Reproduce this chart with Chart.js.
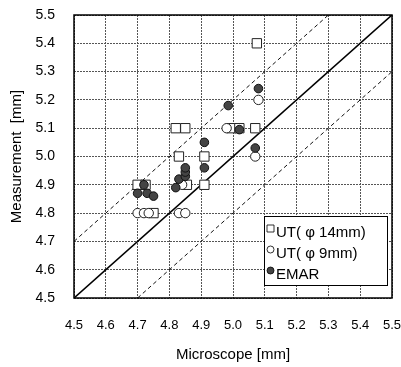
<!DOCTYPE html>
<html>
<head>
<meta charset="utf-8">
<script src="https://cdn.jsdelivr.net/npm/chart.js@4"></script>
<style>
html, body { margin: 0; padding: 0; background: #fff; }
</style>
</head>
<body>
<canvas id="myChart" width="401" height="367"></canvas>
<script>
// UT (phi 14mm) - squares
var ut14X = [4.70, 4.725, 4.75, 4.82, 4.85, 4.83, 4.855, 4.91, 4.91, 4.995, 5.02, 5.07, 5.075];
var ut14Y = [4.90, 4.90, 4.80, 5.10, 5.10, 5.00, 4.90, 5.00, 4.90, 5.10, 5.10, 5.10, 5.40];
// UT (phi 9mm) - open circles
var ut9X = [4.70, 4.72, 4.735, 4.83, 4.85, 4.84, 4.98, 5.07, 5.08];
var ut9Y = [4.80, 4.80, 4.80, 4.80, 4.80, 4.90, 5.10, 5.00, 5.20];
// EMAR - filled circles
var emarX = [4.70, 4.72, 4.73, 4.75, 4.82, 4.83, 4.85, 4.85, 4.85, 4.91, 4.91, 4.985, 5.02, 5.07, 5.08];
var emarY = [4.87, 4.90, 4.87, 4.86, 4.89, 4.92, 4.93, 4.945, 4.96, 4.96, 5.05, 5.18, 5.095, 5.03, 5.24];
// reference lines: y = x, y = x + 0.2, y = x - 0.2
var diagX = [4.5, 5.5], diagY = [4.5, 5.5];
var upperX = [4.5, 5.3], upperY = [4.7, 5.5];
var lowerX = [4.7, 5.5], lowerY = [4.5, 5.3];

var axisMin = 4.5, axisMax = 5.5, axisStep = 0.1;
var labels = ['UT( φ 14mm)', 'UT( φ 9mm)', 'EMAR'];

function pts(xs, ys) {
    return xs.map(function (x, i) { return { x: x, y: ys[i] }; });
}

var fontFam = "'Liberation Sans', Arial, sans-serif";

// frame round the plot
var framePlugin = {
    id: 'frame',
    beforeDatasetsDraw: function (chart) {
        var a = chart.chartArea, c = chart.ctx;
        c.save();
        c.strokeStyle = '#000';
        c.lineWidth = 1.5;
        c.strokeRect(a.left, a.top, a.right - a.left, a.bottom - a.top);
        c.restore();
    }
};

// boxed legend inside the plot, bottom right
var boxLegend = {
    id: 'boxLegend',
    afterDraw: function (chart) {
        var a = chart.chartArea, c = chart.ctx;
        var w = 123, h = 69;
        var x0 = a.right - 5 - w, y0 = a.bottom - 13 - h;
        c.save();
        c.fillStyle = '#fff';
        c.fillRect(x0, y0, w, h);
        c.strokeStyle = '#000';
        c.lineWidth = 1;
        c.strokeRect(x0 + 0.5, y0 + 0.5, w, h);
        c.font = '15px ' + fontFam;
        c.textBaseline = 'middle';
        for (var i = 0; i < 3; i++) {
            var ds = chart.data.datasets[i];
            var yy = y0 + 17 + i * 21;
            c.beginPath();
            c.lineWidth = 0.8;
            c.strokeStyle = '#000';
            c.fillStyle = ds.backgroundColor;
            if (ds.pointStyle === 'rect') {
                c.rect(x0 + 3, yy - 8, 7, 7);
            } else {
                c.arc(x0 + 6.5, yy - 4.5, 3.5, 0, Math.PI * 2);
            }
            c.fill();
            c.stroke();
            c.fillStyle = '#000';
            c.fillText(labels[i], x0 + 12, yy);
        }
        c.restore();
    }
};

var ctx = document.getElementById('myChart').getContext('2d');
var myChart = new Chart(ctx, {
    type: 'scatter',
    data: {
        datasets: [{
            label: labels[0],
            data: pts(ut14X, ut14Y),
            pointStyle: 'rect',
            pointRadius: 6.6,
            backgroundColor: '#fff',
            borderColor: '#222',
            borderWidth: 1,
            order: 3
        }, {
            label: labels[1],
            data: pts(ut9X, ut9Y),
            pointStyle: 'circle',
            pointRadius: 4.7,
            backgroundColor: '#fff',
            borderColor: '#222',
            borderWidth: 1,
            order: 2
        }, {
            label: labels[2],
            data: pts(emarX, emarY),
            pointStyle: 'circle',
            pointRadius: 4.3,
            backgroundColor: '#444',
            borderColor: '#111',
            borderWidth: 1,
            order: 1
        }, {
            data: pts(diagX, diagY),
            showLine: true,
            pointRadius: 0,
            borderColor: '#000',
            borderWidth: 1.6,
            order: 4
        }, {
            data: pts(upperX, upperY),
            showLine: true,
            pointRadius: 0,
            borderColor: '#111',
            borderWidth: 1,
            borderDash: [4, 3],
            order: 4
        }, {
            data: pts(lowerX, lowerY),
            showLine: true,
            pointRadius: 0,
            borderColor: '#111',
            borderWidth: 1,
            borderDash: [4, 3],
            order: 4
        }]
    },
    options: {
        responsive: false,
        animation: false,
        layout: { padding: { top: 15, right: 9, left: 0, bottom: 0 } },
        plugins: {
            legend: { display: false },
            tooltip: { enabled: false }
        },
        scales: {
            x: {
                type: 'linear',
                min: axisMin, max: axisMax,
                afterFit: function (s) { s.height = 69; s.paddingLeft = 0; s.paddingRight = 0; },
                ticks: {
                    stepSize: axisStep,
                    padding: 20,
                    maxRotation: 0,
                    color: '#000',
                    font: { family: fontFam, size: 13 },
                    callback: function (v) { return v.toFixed(1); }
                },
                grid: { color: '#555', lineWidth: 1, drawTicks: false },
                border: { display: false, dash: [2, 1] },
                title: {
                    display: true,
                    text: 'Microscope [mm]',
                    color: '#000',
                    font: { family: fontFam, size: 15 },
                    padding: { top: 4, bottom: 3 }
                }
            },
            y: {
                type: 'linear',
                min: axisMin, max: axisMax,
                afterFit: function (s) { s.width = 74; s.paddingTop = 0; s.paddingBottom = 0; },
                ticks: {
                    stepSize: axisStep,
                    padding: 19,
                    color: '#000',
                    font: { family: fontFam, size: 14 },
                    callback: function (v) { return v.toFixed(1); }
                },
                grid: { color: '#555', lineWidth: 1, drawTicks: false },
                border: { display: false, dash: [2, 1] },
                title: {
                    display: true,
                    text: 'Measurement  [mm]',
                    color: '#000',
                    font: { family: fontFam, size: 15 },
                    padding: { top: 8, bottom: 4 }
                }
            }
        }
    },
    plugins: [framePlugin, boxLegend]
});
</script>
</body>
</html>
